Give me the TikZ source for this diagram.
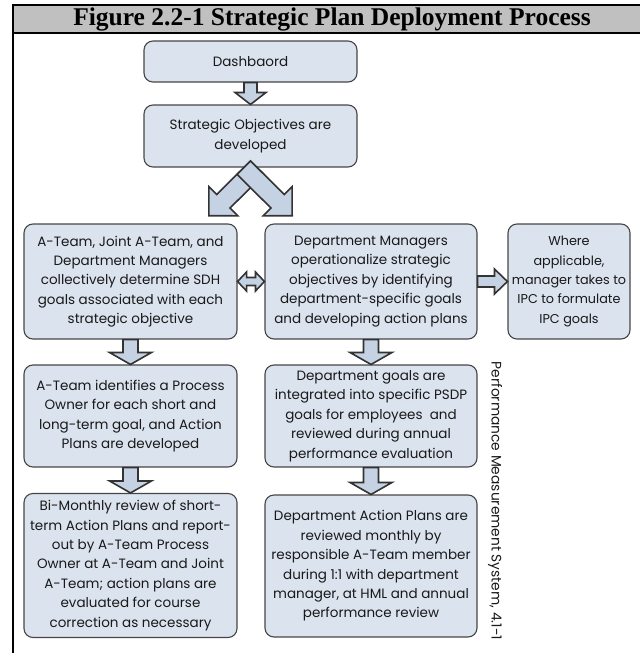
\documentclass[tikz,border=0pt]{standalone}
\usepackage{fontspec}
\setmainfont{Poppins}
\newfontfamily\titlefont{Liberation Serif}
\usetikzlibrary{calc}
\definecolor{boxfill}{RGB}{219,227,238}
\definecolor{arrowfill}{RGB}{197,210,227}
\definecolor{boxline}{RGB}{70,70,70}
\definecolor{headgray}{RGB}{192,192,192}
\definecolor{txt}{RGB}{25,25,25}
\tikzset{
  box/.style={draw=boxline, line width=1.1pt, fill=boxfill, rounded corners=9pt,
    align=center, font=\fontsize{13.5}{19.4}\selectfont, text=txt, inner sep=0pt},
  blockarrow/.style={draw=black!80, line width=1.6pt, fill=arrowfill, line join=miter},
  frameline/.style={line width=2pt, draw=black},
}
% single block arrow: #1 start, #2 end, #3 shaft half width, #4 head half width, #5 head length
\newcommand{\barrow}[5]{%
  \coordinate (baH) at ($(#2)!#5!(#1)$);
  \draw[blockarrow] ($(#1)!#3!90:(#2)$) -- ($(baH)!#3!-90:(#1)$) -- ($(baH)!#4!-90:(#1)$)
    -- (#2) -- ($(baH)!#4!90:(#1)$) -- ($(baH)!#3!90:(#1)$) -- ($(#1)!#3!-90:(#2)$) -- cycle;}
% double block arrow
\newcommand{\dbarrow}[5]{%
  \coordinate (dbA) at ($(#1)!#5!(#2)$);
  \coordinate (dbB) at ($(#2)!#5!(#1)$);
  \draw[blockarrow] (#1) -- ($(dbA)!#4!90:(#2)$) -- ($(dbA)!#3!90:(#2)$) -- ($(dbB)!#3!-90:(#1)$)
    -- ($(dbB)!#4!-90:(#1)$) -- (#2) -- ($(dbB)!#4!90:(#1)$) -- ($(dbB)!#3!90:(#1)$)
    -- ($(dbA)!#3!-90:(#2)$) -- ($(dbA)!#4!-90:(#2)$) -- cycle;}
\begin{document}
\begin{tikzpicture}[x=1pt,y=-1pt]
\useasboundingbox (0,0) rectangle (640,653);
% header and frame
\fill[headgray] (13,5) rectangle (640,33.3);
\draw[frameline] (12,5) -- (640,5);
\draw[frameline] (13,33.3) -- (640,33.3);
\draw[frameline] (13,4) -- (13,653);
\node[font=\titlefont\bfseries\fontsize{25.5}{28}\selectfont, inner sep=0pt] (title) at (332,19.5)
  {Figure 2.2-1 Strategic Plan Deployment Process};
% boxes
\node[box, minimum width=213pt, minimum height=41pt] (dash) at (250.5,61.5) {Dashbaord};
\node[box, minimum width=213pt, minimum height=62pt] (strat) at (250.5,136)
  {Strategic Objectives are\\developed};
\node[box, minimum width=213pt, minimum height=115pt] (r2l) at (130.5,281.5)
  {A-Team, Joint A-Team, and\\Department Managers\\collectively determine SDH\\goals associated with each\\strategic objective};
\node[box, minimum width=212pt, minimum height=115pt] (r2m) at (371,281.5)
  {Department Managers\\operationalize strategic\\objectives by identifying\\department-specific goals\\and developing action plans};
\node[box, minimum width=122pt, minimum height=115pt, font=\fontsize{12.8}{19.4}\selectfont] (r2r) at (569,281.5)
  {Where\\applicable,\\manager takes to\\IPC to formulate\\IPC goals};
\node[box, minimum width=213pt, minimum height=102pt] (r3l) at (130.5,416)
  {A-Team identifies a Process\\Owner for each short and\\long-term goal, and Action\\Plans are developed};
\node[box, minimum width=212pt, minimum height=102pt] (r3m) at (371,416)
  {Department goals are\\integrated into specific PSDP\\goals for employees\ \ and\\reviewed during annual\\performance evaluation};
\node[box, minimum width=213pt, minimum height=144pt] (r4l) at (130.5,565.5)
  {Bi-Monthly review of short-\\term Action Plans and report-\\out by A-Team Process\\Owner at A-Team and Joint\\A-Team; action plans are\\evaluated for course\\correction as necessary};
\node[box, minimum width=212pt, minimum height=142pt] (r4m) at (371,566)
  {Department Action Plans are\\reviewed monthly by\\responsible A-Team member\\during 1:1 with department\\manager, at HML and annual\\performance review};
\node[rotate=-90, font=\fontsize{13.8}{16}\selectfont, text=txt, inner sep=0pt] (pms) at (495,501)
  {Performance Measurement System, 4.1-1};
% arrows
\barrow{dash.south}{strat.north}{6.5pt}{15.5pt}{12pt}
\coordinate (vLs) at (257.2,167.7);
\coordinate (vLe) at (208.8,215.7);
\coordinate (vRs) at (243.8,167.7);
\coordinate (vRe) at (292.2,215.7);
\barrow{vLs}{vLe}{9.5pt}{20.5pt}{20.5pt}
\barrow{vRs}{vRe}{9.5pt}{20.5pt}{20.5pt}
\dbarrow{r2l.east}{r2m.west}{4pt}{9.5pt}{9pt}
\barrow{r2m.east}{r2r.west}{5.5pt}{12.5pt}{13pt}
\barrow{r2l.south}{r3l.north}{7.5pt}{21pt}{12pt}
\barrow{r3l.south}{r4l.north}{7.5pt}{21pt}{12pt}
\barrow{r2m.south}{r3m.north}{7.5pt}{21pt}{12pt}
\barrow{r3m.south}{r4m.north}{7.5pt}{21pt}{12pt}
\end{tikzpicture}
\end{document}
